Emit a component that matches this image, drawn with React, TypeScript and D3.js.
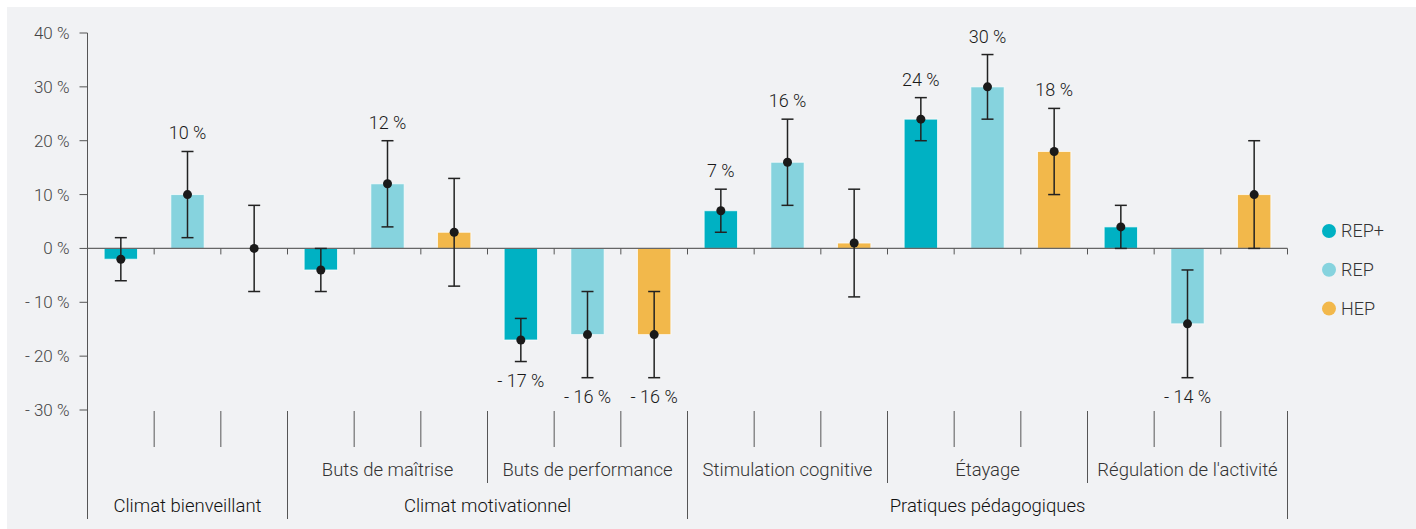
import React from "react";
import * as d3 from "d3";

const seriesNames = ["REP+", "REP", "HEP"];
const seriesColors = ["#00b1c3", "#86d3de", "#f2b84b"];

const groups = ["Climat bienveillant", "Climat motivationnel", "Pratiques pédagogiques"];
const subgroups = [
  { name: "", group: 0 },
  { name: "Buts de maîtrise", group: 1 },
  { name: "Buts de performance", group: 1 },
  { name: "Stimulation cognitive", group: 2 },
  { name: "Étayage", group: 2 },
  { name: "Régulation de l'activité", group: 2 },
];

// values per subgroup, in order REP+, REP, HEP
const values = [
  [-2, 10, 0],
  [-4, 12, 3],
  [-17, -16, -16],
  [7, 16, 1],
  [24, 30, 18],
  [4, -14, 10],
];
const lower = [
  [-6, 2, -8],
  [-8, 4, -7],
  [-21, -24, -24],
  [3, 8, -9],
  [20, 24, 10],
  [0, -24, 0],
];
const upper = [
  [2, 18, 8],
  [0, 20, 13],
  [-13, -8, -8],
  [11, 24, 11],
  [28, 36, 26],
  [8, -4, 20],
];
const significant = [
  [false, true, false],
  [false, true, false],
  [true, true, true],
  [true, true, false],
  [true, true, true],
  [false, true, false],
];

const yTicks = [40, 30, 20, 10, 0, -10, -20, -30];

const W = 1416;
const H = 529;
const X0 = 87.5;
const X1 = 1287.5;
const Y_TOP = 33;
const Y_BOT = 410;

const fmt = (v: number) => (v < 0 ? `- ${Math.abs(v)} %` : `${v} %`);

export default function App() {
  const slots: { key: string; sg: number; s: number }[] = [];
  subgroups.forEach((_, sg) => seriesNames.forEach((_, s) => slots.push({ key: `${sg}-${s}`, sg, s })));

  const x = d3
    .scaleBand<string>()
    .domain(slots.map((d) => d.key))
    .range([X0, X1])
    .paddingInner(0.5)
    .paddingOuter(0.25);
  const step = x.step();
  const y = d3.scaleLinear().domain([-30, 40]).range([Y_BOT, Y_TOP]);
  const y0 = y(0);

  const slotStart = (i: number) => X0 + i * step;

  const font = "Roboto, 'Noto Sans', sans-serif";

  const boundaries: { xPos: number; len: number }[] = [];
  for (let i = 0; i <= slots.length; i++) {
    let bottom = 447;
    if (i === slots.length || i === 0) bottom = 519;
    else {
      const sgPrev = slots[i - 1].sg;
      const sgNext = slots[i].sg;
      if (sgPrev !== sgNext) {
        if (subgroups[sgPrev].group !== subgroups[sgNext].group) bottom = 519;
        else bottom = 483;
      }
    }
    boundaries.push({ xPos: slotStart(i), len: bottom });
  }

  const groupExtents = groups.map((_, g) => {
    const idx = slots.map((s, i) => ({ s, i })).filter((d) => subgroups[d.s.sg].group === g);
    return [slotStart(idx[0].i), slotStart(idx[idx.length - 1].i + 1)];
  });

  return (
    <svg width={W} height={H} style={{ position: "absolute", left: 0, top: 0 }}>
      <rect x={0} y={0} width={W} height={H} fill="#ffffff" />
      <rect x={7} y={7} width={W - 7} height={H - 7} fill="#f1f2f4" />

      {/* y axis */}
      <line x1={X0} x2={X0} y1={Y_TOP} y2={519} stroke="#555" strokeWidth={1} />
      {yTicks.map((t) => (
        <g key={t}>
          <line x1={X0 - 8} x2={X0} y1={y(t)} y2={y(t)} stroke="#555" strokeWidth={1} />
          <text
            x={X0 - 18}
            y={y(t)}
            dy="0.35em"
            textAnchor="end"
            fontFamily={font}
            fontWeight={300}
            fontSize={17}
            fill="#444"
          >
            {t < 0 ? `- ${Math.abs(t)} %` : `${t} %`}
          </text>
        </g>
      ))}

      {/* bars */}
      {slots.map((d) => {
        const v = values[d.sg][d.s];
        if (v === 0) return null;
        const yv = y(v);
        return (
          <rect
            key={d.key}
            x={x(d.key)!}
            y={Math.min(yv, y0)}
            width={x.bandwidth()}
            height={Math.abs(yv - y0)}
            fill={seriesColors[d.s]}
            stroke="#ffffff"
            strokeOpacity={0.7}
            strokeWidth={1}
          />
        );
      })}

      {/* zero line */}
      <line x1={X0} x2={X1} y1={y0} y2={y0} stroke="#666" strokeWidth={1.2} />
      {boundaries.map((b, i) =>
        i === 0 ? null : (
          <line key={`zt${i}`} x1={b.xPos} x2={b.xPos} y1={y0} y2={y0 + 6} stroke="#555" strokeWidth={1} />
        )
      )}

      {/* error bars */}
      {slots.map((d) => {
        const cx = x(d.key)! + x.bandwidth() / 2;
        const lo = y(lower[d.sg][d.s]);
        const hi = y(upper[d.sg][d.s]);
        return (
          <g key={`e${d.key}`} stroke="#222" strokeWidth={1.5}>
            <line x1={cx} x2={cx} y1={hi} y2={lo} />
            <line x1={cx - 6} x2={cx + 6} y1={hi} y2={hi} />
            <line x1={cx - 6} x2={cx + 6} y1={lo} y2={lo} />
            <circle cx={cx} cy={y(values[d.sg][d.s])} r={4.5} fill="#1a1a1a" stroke="none" />
          </g>
        );
      })}

      {/* value labels */}
      {slots.map((d) => {
        if (!significant[d.sg][d.s]) return null;
        const v = values[d.sg][d.s];
        const cx = x(d.key)! + x.bandwidth() / 2;
        const yy = v >= 0 ? y(upper[d.sg][d.s]) - 12 : y(lower[d.sg][d.s]) + 25;
        return (
          <text
            key={`l${d.key}`}
            x={cx}
            y={yy}
            textAnchor="middle"
            fontFamily={font}
            fontWeight={300}
            fontSize={18}
            fill="#1a1a1a"
          >
            {fmt(v)}
          </text>
        );
      })}

      {/* bottom category structure */}
      {boundaries.map((b, i) => (
        <line key={`b${i}`} x1={b.xPos} x2={b.xPos} y1={411} y2={b.len} stroke="#555" strokeWidth={1} />
      ))}
      {subgroups.map((sg, i) =>
        sg.name ? (
          <text
            key={`sg${i}`}
            x={slotStart(i * 3) + (3 * step) / 2}
            y={470}
            dy="0.35em"
            textAnchor="middle"
            fontFamily={font}
            fontWeight={300}
            fontSize={18.5}
            fill="#333"
          >
            {sg.name}
          </text>
        ) : null
      )}
      {groups.map((g, i) => (
        <text
          key={`g${i}`}
          x={(groupExtents[i][0] + groupExtents[i][1]) / 2}
          y={506}
          dy="0.35em"
          textAnchor="middle"
          fontFamily={font}
          fontWeight={300}
          fontSize={18.5}
          fill="#111"
        >
          {g}
        </text>
      ))}

      {/* legend */}
      {seriesNames.map((s, i) => (
        <g key={s} transform={`translate(1329, ${231 + i * 38.8})`}>
          <circle cx={0} cy={0} r={7} fill={seriesColors[i]} />
          <text x={12} y={0} dy="0.35em" fontFamily={font} fontWeight={300} fontSize={18} fill="#333">
            {s}
          </text>
        </g>
      ))}
    </svg>
  );
}
